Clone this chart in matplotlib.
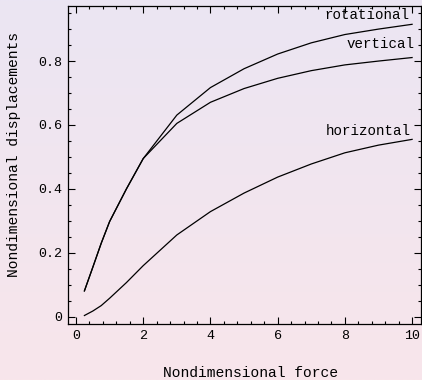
import numpy as np
import matplotlib.pyplot as plt
from matplotlib.colors import LinearSegmentedColormap
from matplotlib.ticker import MultipleLocator

# Nondimensional force and the three displacement components
force = [0.25, 0.5, 0.75, 1, 1.5, 2, 3, 4, 5, 6, 7, 8, 9, 10]
rotational = [0.081, 0.155, 0.23, 0.298, 0.40, 0.495, 0.631, 0.717, 0.776, 0.822, 0.857, 0.883, 0.90, 0.915]
vertical = [0.081, 0.155, 0.23, 0.298, 0.40, 0.495, 0.605, 0.671, 0.714, 0.746, 0.77, 0.788, 0.80, 0.811]
horizontal = [0.004, 0.018, 0.035, 0.058, 0.107, 0.16, 0.256, 0.329, 0.387, 0.437, 0.478, 0.513, 0.537, 0.555]

curve_labels = ['rotational', 'vertical', 'horizontal']
label_pos = [(9.93, 0.944), (10.08, 0.852), (9.97, 0.581)]

plt.rcParams['font.family'] = ['Liberation Mono', 'DejaVu Sans Mono']

fig = plt.figure(figsize=(4.22, 3.8), dpi=100)

# soft lavender-to-pink background
bg = fig.add_axes([0, 0, 1, 1], zorder=-10)
cmap = LinearSegmentedColormap.from_list('bg', ['#ebe5f3', '#f8e6eb'])
bg.imshow(np.linspace(0, 1, 256).reshape(-1, 1), aspect='auto', cmap=cmap,
          extent=[0, 1, 0, 1])
bg.axis('off')

ax = fig.add_axes([0.161, 0.147, 0.837, 0.837])
ax.patch.set_alpha(0)

for series in (rotational, vertical, horizontal):
    ax.plot(force, series, color='black', lw=0.9)

for name, (tx, ty) in zip(curve_labels, label_pos):
    ax.text(tx, ty, name, ha='right', va='center', fontsize=10.2)

ax.set_xlim(-0.24, 10.27)
ax.set_ylim(-0.023, 0.972)
ax.xaxis.set_major_locator(MultipleLocator(2))
ax.xaxis.set_minor_locator(MultipleLocator(0.4))
ax.yaxis.set_major_locator(MultipleLocator(0.2))
ax.yaxis.set_minor_locator(MultipleLocator(0.05))
ax.set_yticks([0, 0.2, 0.4, 0.6, 0.8])
ax.set_yticklabels(['0', '0.2', '0.4', '0.6', '0.8'])

ax.tick_params(which='both', direction='in', top=True, right=True,
               width=0.8, labelsize=9.6)
ax.tick_params(which='major', length=5, pad=4)
ax.tick_params(which='minor', length=2.5)
for s in ax.spines.values():
    s.set_linewidth(0.9)

ax.set_xlabel('Nondimensional force', fontsize=10.5)
ax.set_ylabel('Nondimensional displacements', fontsize=10.5)
ax.xaxis.set_label_coords(0.516, -0.131)
ax.yaxis.set_label_coords(-0.132, 0.532)

fig.savefig('out.png', dpi=100)
